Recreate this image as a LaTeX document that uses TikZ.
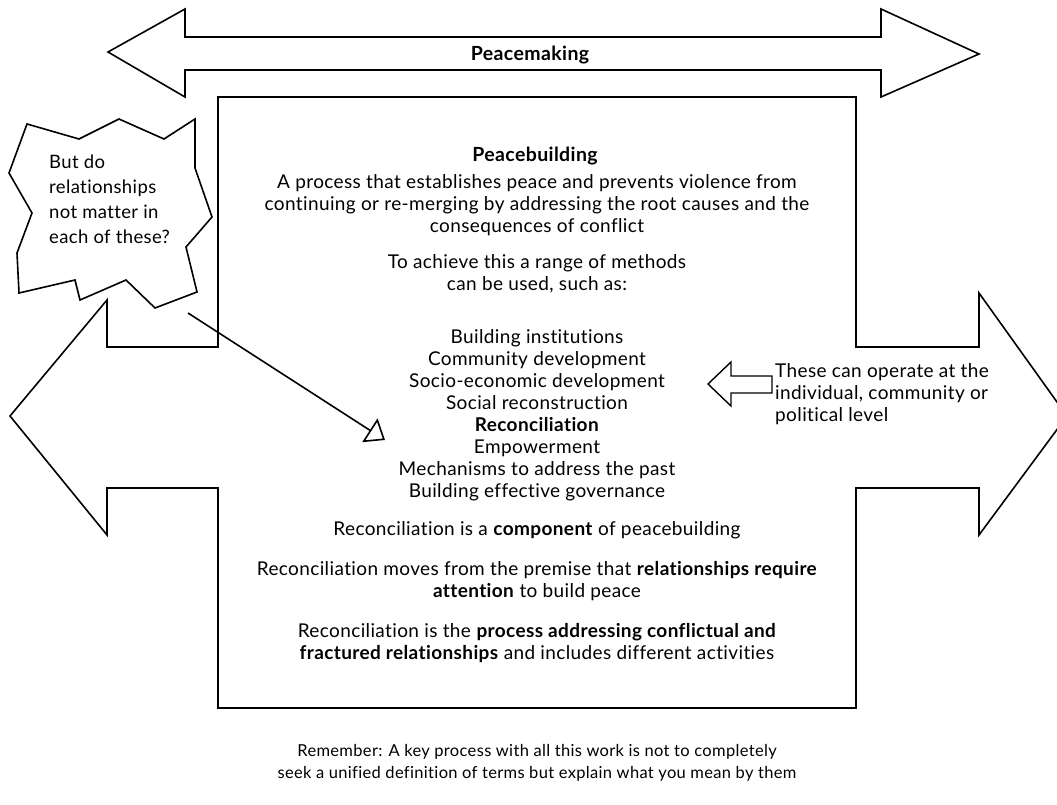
\documentclass[tikz,border=0pt]{standalone}
\usepackage{fontspec}
\setmainfont{Lato}[Ligatures=NoCommon, LetterSpace=2.0]
\usetikzlibrary{arrows.meta}
\tikzset{
  outline/.style={draw=black, line width=1.6pt, fill=white, line join=miter},
  txt/.style={inner sep=0pt, anchor=north, align=center, font=\fontsize{19}{22}\selectfont},
  ltxt/.style={inner sep=0pt, anchor=north west, align=left, font=\fontsize{19}{22}\selectfont},
}
\begin{document}
\begin{tikzpicture}[x=1pt,y=-1pt]
\useasboundingbox (0,0) rectangle (1057,805);
\clip (0,0) rectangle (1057,805);
% top double arrow (Peacemaking)
\draw[outline] (108,52) -- (185,9) -- (185,37) -- (881,37) -- (881,9) -- (979,54)
  -- (881,97) -- (881,70) -- (185,70) -- (185,97) -- cycle;
\node[txt, font=\fontsize{19.5}{22}\selectfont\bfseries] (peacemaking) at (530,46) {Peacemaking};
% box with big double arrow behind
\draw[outline] (218,97) -- (856,97) -- (856,347) -- (979,347) -- (979,293) -- (1067,416)
  -- (979,535) -- (979,488) -- (856,488) -- (856,708) -- (218,708) -- (218,488)
  -- (107,488) -- (107,535) -- (10,416) -- (107,300) -- (107,347) -- (218,347) -- cycle;
% cloud
\draw[outline] (27,124) -- (79,139) -- (119,119) -- (164,139) -- (195,119) -- (195,168)
  -- (212,217) -- (186,247) -- (197,292) -- (155,308) -- (126,280) -- (80,300)
  -- (75,280) -- (19,293) -- (17,253) -- (32,213) -- (9,173) -- cycle;
\node[ltxt, font=\fontsize{18.5}{25}\selectfont] (cloudtext) at (49,155)
  {But do\\relationships\\not matter in\\each of these?};
% box texts
\node[txt, font=\fontsize{19.5}{22}\selectfont\bfseries] (pb) at (535,147) {Peacebuilding};
\node[txt] (def) at (537,174) {A process that establishes peace and prevents violence from\\
  continuing or re-merging by addressing the root causes and the\\consequences of conflict};
\node[txt] (achieve) at (537,254) {To achieve this a range of methods\\can be used, such as:};
\node[txt] (list) at (537,329) {Building institutions\\Community development\\Socio-economic development\\
  Social reconstruction\\\textbf{Reconciliation}\\Empowerment\\Mechanisms to address the past\\
  Building effective governance};
\node[txt] (comp) at (537,521) {Reconciliation is a \textbf{component} of peacebuilding};
\node[txt] (moves) at (537,561) {Reconciliation moves from the premise that \textbf{relationships require}\\
  \textbf{attention} to build peace};
\node[txt] (proc) at (537,623) {Reconciliation is the \textbf{process addressing conflictual and}\\
  \textbf{fractured relationships} and includes different activities};
\node[txt, font=\fontsize{16.5}{22}\selectfont] (remember) at (537,744) {Remember: A key process with all this work is not to completely\\
  seek a unified definition of terms but explain what you mean by them};
% right text and small arrow
\node[ltxt] (levels) at (775,363) {These can operate at the\\individual, community or\\political level};
\draw[outline, line width=1.4pt] (708,384) -- (731,362) -- (731,376) -- (772,376) -- (772,393)
  -- (731,393) -- (731,406) -- cycle;
% cloud connector
\coordinate (cloudtail) at (188,313);
\coordinate (recontip) at (385,440);
\draw[line width=1.6pt, -{Triangle[open, length=18pt, width=28pt, line width=1.6pt]}] (cloudtail) -- (recontip);
\end{tikzpicture}
\end{document}
